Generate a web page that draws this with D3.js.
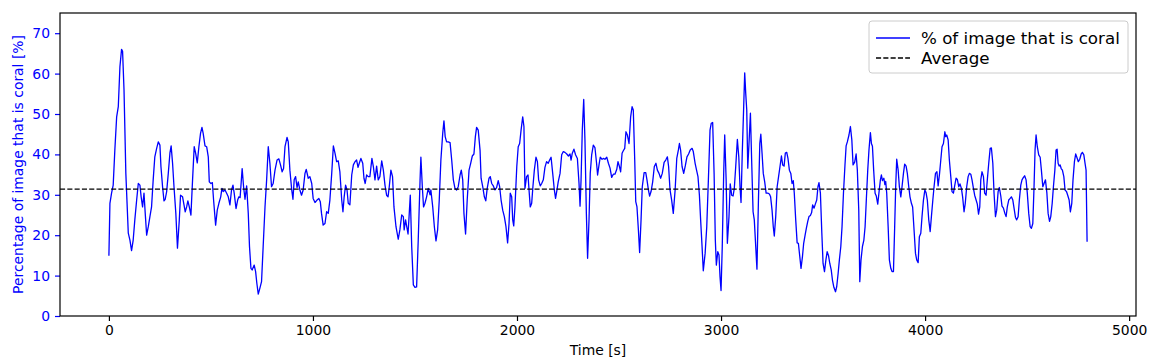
<!DOCTYPE html>
<html>
<head>
<meta charset="utf-8">
<script src="https://cdn.jsdelivr.net/npm/d3@7"></script>
<style>
body{margin:0;background:#fff;}
text{font-family:"DejaVu Sans",sans-serif;}
</style>
</head>
<body>
<div class="chart"></div>
<script>
// time [s] and % coral
const time = [0,5,13,21,29,38,46,54,62,67,74,83,95,103,111,119,127,136,144,152,158,165,172,178,185,193,201,209,217,225,234,242,250,255,263,270,276,283,291,299,305,312,319,328,336,345,351,361,368,374,381,387,394,402,410,418,425,433,441,449,456,462,471,479,487,492,500,507,513,523,531,539,548,554,560,569,577,585,593,
601,608,614,623,631,637,643,653,660,667,675,683,689,696,702,712,719,725,732,740,748,756,765,773,781,789,797,805,814,824,833,841,849,856,863,873,879,887,896,902,908,915,922,928,936,944,952,961,967,977,985,994,1001,1010,1020,1029,1036,1042,1050,1059,1067,1075,1083,1092,1100,1108,1116,1124,1132,1141,1147,1153,1160,1167,1173,1181,1190,1198,1206,
1214,1221,1227,1235,1244,1250,1256,1263,1271,1279,1289,1296,1304,1312,1320,1328,1337,1345,1353,1361,1368,1374,1382,1390,1397,1407,1418,1426,1435,1443,1447,1454,1459,1466,1472,1477,1484,1492,1500,1508,1516,1525,1529,1536,1542,1549,1557,1565,1574,1578,1587,1595,1603,1611,1619,1627,1636,1642,1648,1655,1663,1672,1680,1688,1696,1704,1712,1721,1727,1734,1740,1748,1756,1765,1773,1781,1789,1796,1802,1810,1819,
1824,1832,1840,1847,1854,1863,1869,1876,1884,1892,1900,1908,1915,1922,1930,1938,1946,1954,1961,1967,1974,1979,1984,1990,1999,2006,2013,2020,2028,2034,2039,2047,2054,2059,2065,2072,2078,2085,2093,2100,2106,2114,2121,2129,2137,2145,2153,2160,2167,2175,2183,2189,2196,2202,2211,2219,2227,2235,2244,2252,2260,2265,2271,2279,2287,2296,2304,2309,2314,2320,2327,2333,2340,2346,2353,2359,2366,2374,2382,2390,2395,2402,2408,2417,2425,
2431,2440,2448,2456,2464,2472,2480,2489,2495,2502,2508,2515,2521,2528,2534,2541,2549,2557,2564,2570,2577,2582,2588,2595,2601,2608,2614,2623,2631,2637,2644,2650,2657,2665,2673,2681,2688,2696,2704,2712,2721,2729,2737,2743,2750,2758,2766,2775,2783,2791,2796,2802,2809,2817,2825,2833,2841,2849,2858,2864,2873,2880,2887,2894,2900,2907,2913,2922,2930,2938,2946,2952,2959,2966,2972,2977,2984,2990,2995,3000,3006,3013,3018,3025,3031,
3039,3045,3052,3059,3065,3072,3080,3087,3093,3098,3104,3111,3116,3121,3126,3131,3137,3144,3150,3157,3163,3170,3176,3183,3190,3195,3201,3207,3214,3221,3229,3237,3243,3250,3256,3261,3268,3275,3282,3289,3296,3302,3309,3315,3322,3328,3335,3342,3348,3354,3359,3366,3373,3379,3386,3392,3399,3405,3412,3418,3425,3431,3438,3444,3449,3456,3462,3469,3475,3480,3487,3494,3500,3507,3514,3520,3527,3533,3540,3546,3553,3561,3567,3574,3580,3587,3593,3600,3607,3613,3619,3627,3634,3641,3647,
3655,3662,3668,3675,3680,3686,3693,3700,3706,3712,3719,3725,3732,3737,3742,3748,3755,3761,3768,3774,3781,3786,3791,3798,3803,3807,3812,3819,3825,3832,3838,3845,3851,3856,3861,3868,3874,3881,3887,3894,3900,3907,3913,3920,3926,3933,3939,3946,3953,3959,3966,3972,3979,3985,3992,3999,4005,4011,4018,4025,4031,4038,4044,4051,4058,4064,4071,4077,4083,4090,4097,4101,4106,4113,4119,4126,4132,4139,4145,4152,4158,4165,4171,4178,4184,4191,4197,4204,4211,4217,4224,4230,4237,4243,4250,4256,
4262,4268,4273,4279,4286,4292,4299,4305,4312,4319,4325,4332,4338,4345,4351,4358,4364,4371,4377,4384,4391,4397,4403,4410,4417,4423,4430,4436,4443,4449,4456,4462,4469,4475,4482,4488,4495,4501,4508,4515,4521,4528,4534,4539,4544,4550,4557,4564,4570,4577,4583,4590,4597,4603,4610,4616,4623,4629,4636,4642,4647,4652,4657,4662,4667,4673,4680,4686,4693,4699,4706,4712,4719,4725,4732,4738,4745,4751,4758,4765,4771,4778,4784,4789,4794];

const coral = [14.9,27.9,30.4,32.4,41,49.3,51.8,61.7,66,65.5,56,35.3,20.5,18.8,16.2,18.8,23.8,28.7,32.8,32.4,29.5,27,30.4,25.4,20,22.1,24.6,27,33.7,39.4,41.5,43.1,42.3,37,32,28.5,28.9,30.8,35.3,40.3,42.1,37.8,32,25.4,16.8,23.8,29.9,29.5,27.5,25.8,27,28.5,27,25,33.7,41.9,40.3,37.9,41.9,45.2,46.7,45.2,42.1,41.9,39.4,33.2,32.8,33,28.7,22.5,26.2,27.9,29.5,31.6,30.8,31.2,30.4,29.5,27.5,
31.2,32.4,30.4,26.6,28.7,29.5,29.3,36.5,32,28.9,32.2,25.4,17.2,11.8,11.4,12.6,11,8.1,5.4,6.9,8.5,17.2,27,33.7,41.9,37.8,32,32.8,36.1,38.6,38.9,37.4,35.7,36.5,41.9,44.2,43.1,36.1,31.2,28.9,33.7,34.5,31.8,33.2,31.2,29.9,31.2,35.3,36.3,34.1,34.5,32.8,29.1,28.1,28.7,29.1,28.3,25.4,22.5,22.9,25.8,25.4,28.7,35.3,42.1,40.3,38.2,38.4,35.7,28.7,25.8,29.5,32.4,31.2,27.9,27.5,34.9,37.4,38.2,
38.6,36.8,37.8,39,37.8,34.1,32.8,34.9,34.5,34.5,39,37,33.7,37.1,33.7,34.5,38.4,36.1,32.4,29.9,29.5,32,36.1,34.5,27,22.1,19,21.3,25,24.6,21.3,23.8,22.3,20.3,25.4,29.9,17.2,7.7,7.1,7.2,18.8,33.7,39.3,32,27,27.9,29.5,31.6,30,31.2,27,22.1,18.6,21.3,28.7,38.6,45.2,48.3,44.4,43.1,43.1,42.9,38.6,33.7,31.6,31.2,32,34.9,36.1,33.7,25.4,20.3,28.7,36.1,37.8,39.6,40.1,44.4,46.7,46,41,
34.1,32,29.5,28.5,31.6,34.1,34.5,32.8,32.2,31.2,31.8,33.5,32,28.7,26.2,24.6,22.1,18.1,22.9,30.4,29.5,23.8,22.3,27,37,41.9,42.7,46,49.3,46.9,31.6,34.5,34.9,31.2,27,27.9,32,36.1,39.3,38.2,33.7,32.2,32.8,33.7,36.8,38.2,37.8,38.6,39.3,35.3,31.2,29.1,31.2,33.2,35.3,39.9,40.7,40.5,40.1,39.6,40.1,38.6,40.3,41.3,39.9,39,32.8,27.2,33.7,46,53.6,43.6,25.4,14.3,23.8,35.3,39.9,42.3,41.7,37.8,34.9,37.4,39.3,38.8,39,
38.8,39.3,37.8,36.6,34.3,35.1,35.1,36.3,38.2,37,35.7,40.3,40.9,41.5,45.6,44.8,42.7,49.3,51.8,51,38.6,28.3,27,21.3,15.7,23.8,32,35.5,35.5,33.7,31.2,29.7,30.8,33.2,37,37.8,36.1,35.3,34.1,35.3,38,38.6,39.4,37,31.2,28.7,25.4,31.2,39,41.1,42.7,41,37,35.3,37.2,39.4,40.1,41.1,41.5,40.7,37.8,36.1,34.5,29.9,23.8,17.2,11.2,15.5,22.1,33.7,46,47.7,47.9,35.3,18.8,12.6,15.9,15.1,9.7,6.3,17.2,35.3,44.8,33.7,18,
24.6,32.7,29.9,29.7,31.6,37,43.7,39.4,32,28.1,40.3,51.8,60.2,55.1,51,36.6,42.7,50.2,38.6,25.8,23.8,17.2,11.6,27.9,42.7,45,40.3,35.3,33.2,30.4,30.4,30.2,29.5,26.2,22.1,19.8,24.6,32,34.5,37,39.6,37.4,37.1,40.3,40.5,39,36.1,35.3,32.8,33.5,30.4,23.8,18.1,18,14.7,11.8,14.7,18,20,21.7,23.4,24.6,24.9,25.6,27.5,26.7,27.7,28.7,32,33,30.4,20.5,13,11,13.9,15.9,14.9,13,11.4,8.9,7.1,6,7.3,10.6,13.9,17.2,22.1,30.4,37,42.1,43.1,44.8,46.9,43.6,37.4,
38.1,40.1,36.1,26.2,8.5,13.9,17.2,18.8,22.1,28.7,36.1,41.1,45.4,42.7,42,36.1,30.4,29.7,27.7,30.5,33.7,34.9,33.5,34.1,32.5,33.3,30.4,22.1,13.9,11.8,11,11,22.1,32,38.8,36.1,32,29.5,32,35.3,37.6,37.1,35.3,32,29.5,27.9,27,21.3,15.5,13.9,13.2,19.6,20.5,24.6,28.7,31.2,30.5,28.7,23.8,20.9,24.6,28.7,32,35.3,35.7,32.2,35.3,38.6,41.9,42.7,45.6,44.4,44.8,43.6,38.6,34.5,30.8,30.4,32.2,34.1,33.8,32,32.7,31.6,29.5,25.8,27.9,32,34.5,35.3,35.1,33.7,31.6,29.9,28.7,27.7,
25.2,27,33.7,35.7,34.5,30.4,29.9,33.7,37.8,41.5,41.6,37.8,30.4,24.6,26.2,30.8,31.8,29.7,27.2,26.7,25.4,24.6,27,28.7,29.1,29.5,28.7,26.7,24.4,23.8,24.6,28.7,32.4,33.7,34.3,34.7,33.7,30.4,25.4,22.1,21.7,22.9,32,41.1,44.8,41.9,39.9,39.3,36.1,32,32.8,33.7,30.4,25.4,23.4,24.6,27.9,32,36.1,41.1,41.3,37.8,37.1,37.4,36.5,36.1,34.5,31.2,30.8,29.9,28.7,25.8,27.9,33.7,38.2,40.1,39.1,38.2,38.8,40.1,40.5,39.9,37.8,36.1,18.4];

const averageCoral = 31.4;
const yTicks = [0,10,20,30,40,50,60,70];
const xTicks = [0,1000,2000,3000,4000,5000];
const seriesNames = ['% of image that is coral','Average'];

const svg_width = 1152;
const svg_height = 359;
const margin = {top:13,right:16,bottom:43,left:60};
const chart_width = svg_width - margin.left - margin.right;
const chart_height = svg_height - margin.top - margin.bottom;

const data = time.map((t,i)=>({t:t, v:coral[i]}));

const svg = d3.select('.chart').append('svg')
    .attr('width',svg_width).attr('height',svg_height);
const g = svg.append('g').attr('transform',`translate(${margin.left},${margin.top})`);

// matplotlib style 5% margins on x
const tMax = d3.max(time);
const xScale = d3.scaleLinear().domain([-0.05*tMax, 1.05*tMax]).range([0,chart_width]);
const yScale = d3.scaleLinear().domain([0,75]).range([chart_height,0]);

g.append('defs').append('clipPath').attr('id','clip')
  .append('rect').attr('width',chart_width).attr('height',chart_height);

// coral line
const line = d3.line().x(d=>xScale(d.t)).y(d=>yScale(d.v));
g.append('path').datum(data)
  .attr('clip-path','url(#clip)')
  .attr('d',line).attr('fill','none')
  .attr('stroke','#0000ff').attr('stroke-width',1.3)
  .attr('stroke-linejoin','round');

// average line
g.append('line')
  .attr('x1',0).attr('x2',chart_width)
  .attr('y1',yScale(averageCoral)).attr('y2',yScale(averageCoral))
  .attr('stroke','#000').attr('stroke-width',1.3)
  .attr('stroke-dasharray','5.1,2.2');

// axes
const xAxis = d3.axisBottom(xScale).tickValues(xTicks).tickFormat(d3.format('d'))
  .tickSize(5).tickPadding(4).tickSizeOuter(0);
const xAxisDraw = g.append('g').attr('transform',`translate(0,${chart_height})`).call(xAxis);
xAxisDraw.select('.domain').remove();
xAxisDraw.selectAll('line').attr('stroke-width',1.2);
xAxisDraw.selectAll('text').style('font-size','13.9px').attr('fill','#000');

const yAxis = d3.axisLeft(yScale).tickValues(yTicks).tickSize(5).tickPadding(5).tickSizeOuter(0);
const yAxisDraw = g.append('g').call(yAxis);
yAxisDraw.select('.domain').remove();
yAxisDraw.selectAll('line').attr('stroke','#0000ff').attr('stroke-width',1.2);
yAxisDraw.selectAll('text').style('font-size','13.9px').attr('fill','#0000ff');

// frame
g.append('rect').attr('width',chart_width).attr('height',chart_height)
  .attr('fill','none').attr('stroke','#000').attr('stroke-width',1.2);

// axis labels
svg.append('text')
  .attr('x',margin.left+chart_width/2).attr('y',355)
  .attr('text-anchor','middle').style('font-size','13.9px')
  .text('Time [s]');
svg.append('text')
  .attr('transform',`translate(23,${margin.top+chart_height/2}) rotate(-90)`)
  .attr('text-anchor','middle').style('font-size','13.9px').attr('fill','#0000ff')
  .text('Percentage of image that is coral [%]');

// legend
const legend = svg.append('g').attr('transform','translate(869,21)');
legend.append('rect').attr('width',259).attr('height',52).attr('rx',3)
  .attr('fill','#fff').attr('fill-opacity',0.8).attr('stroke','#ccc');
const rows = legend.selectAll('.row').data(seriesNames).join('g')
  .attr('class','row').attr('transform',(d,i)=>`translate(0,${17+i*20})`);
rows.append('line').attr('x1',7).attr('x2',41).attr('y1',0).attr('y2',0)
  .attr('stroke',(d,i)=>i==0?'#0000ff':'#000').attr('stroke-width',1.3)
  .attr('stroke-dasharray',(d,i)=>i==0?null:'5.1,2.2');
rows.append('text').attr('x',52).attr('y',6).style('font-size','16.7px').text(d=>d);
</script>
</body>
</html>
